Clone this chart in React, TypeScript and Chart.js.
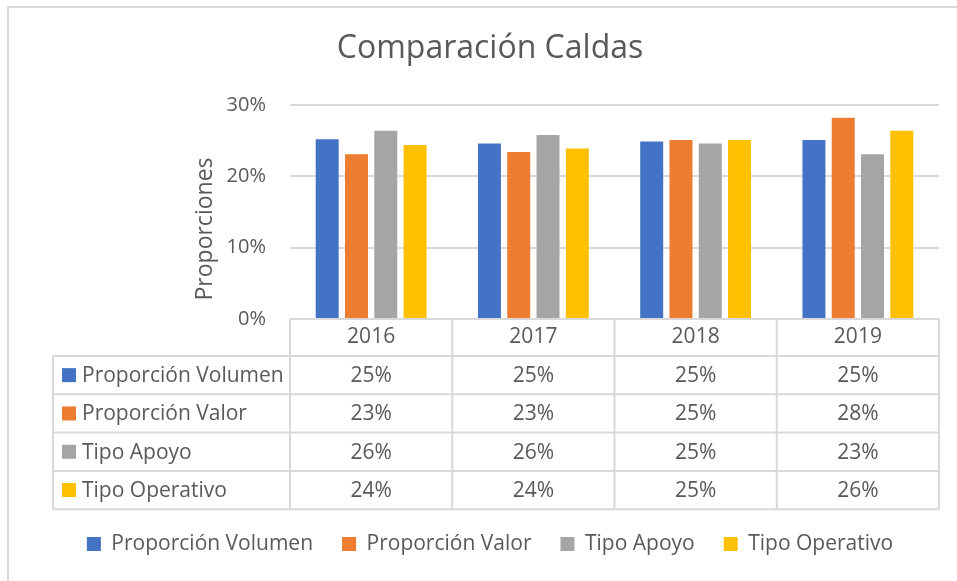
import React, { useEffect, useRef } from "react";
import { Chart, registerables } from "chart.js";

Chart.register(...registerables);

const TITLE = "Comparación Caldas";
const Y_TITLE = "Proporciones";
const categories = ["2016", "2017", "2018", "2019"];
const seriesNames = ["Proporción Volumen", "Proporción Valor", "Tipo Apoyo", "Tipo Operativo"];
const seriesColors = ["#4472C4", "#ED7D31", "#A5A5A5", "#FFC000"];
const volumen = [25.2, 24.6, 24.9, 25.1];
const valor = [23.1, 23.4, 25.1, 28.2];
const apoyo = [26.4, 25.8, 24.6, 23.1];
const operativo = [24.4, 23.9, 25.1, 26.4];
const seriesValues = [volumen, valor, apoyo, operativo];
const yTicks = [0, 10, 20, 30];

const FONT = "'Open Sans', sans-serif";
const TEXT = "#595959";
const LINE = "#d9d9d9";

const framePlugin = {
  id: "frame",
  beforeDraw(chart: any) {
    const ctx = chart.ctx;
    ctx.save();
    ctx.fillStyle = "#ffffff";
    ctx.fillRect(0, 0, chart.width, chart.height);
    ctx.strokeStyle = LINE;
    ctx.lineWidth = 2;
    ctx.beginPath();
    ctx.moveTo(8, chart.height);
    ctx.lineTo(8, 7);
    ctx.lineTo(chart.width, 7);
    ctx.stroke();
    ctx.restore();
  },
};

const yTitlePlugin = {
  id: "yTitle",
  afterDraw(chart: any) {
    const ctx = chart.ctx;
    ctx.save();
    ctx.translate(205, 229);
    ctx.rotate(-Math.PI / 2);
    ctx.font = `23px ${FONT}`;
    ctx.fillStyle = TEXT;
    ctx.textAlign = "center";
    ctx.textBaseline = "middle";
    ctx.fillText(Y_TITLE, 0, 0);
    ctx.restore();
  },
};

const tablePlugin = {
  id: "dataTable",
  afterDraw(chart: any) {
    const ctx = chart.ctx;
    const area = chart.chartArea;
    const xs = chart.scales.x;
    const n = categories.length;
    const colW = (area.right - area.left) / n;
    const top = area.bottom;
    const headerH = 37;
    const rowH = 38.3;
    const leftX = 53;
    const rowsTop = top + headerH;
    const bottom = rowsTop + rowH * seriesNames.length;
    ctx.save();
    ctx.strokeStyle = LINE;
    ctx.lineWidth = 2;
    ctx.beginPath();
    ctx.moveTo(area.left, top);
    ctx.lineTo(area.right, top);
    for (let r = 0; r <= seriesNames.length; r++) {
      const y = rowsTop + r * rowH;
      ctx.moveTo(leftX, y);
      ctx.lineTo(area.right, y);
    }
    for (let c = 0; c <= n; c++) {
      const x = area.left + c * colW;
      ctx.moveTo(x, top);
      ctx.lineTo(x, bottom);
    }
    ctx.moveTo(leftX, rowsTop);
    ctx.lineTo(leftX, bottom);
    ctx.stroke();

    ctx.font = `21px ${FONT}`;
    ctx.fillStyle = TEXT;
    ctx.textBaseline = "middle";
    ctx.textAlign = "center";
    categories.forEach((cat, i) => {
      ctx.fillText(cat, xs.getPixelForValue(i), top + headerH / 2);
    });
    seriesNames.forEach((name, r) => {
      const cy = rowsTop + r * rowH + rowH / 2;
      ctx.fillStyle = seriesColors[r];
      ctx.fillRect(62, cy - 7, 14, 14);
      ctx.fillStyle = TEXT;
      ctx.textAlign = "left";
      ctx.fillText(name, 82, cy + 1);
      ctx.textAlign = "center";
      seriesValues[r].forEach((v, i) => {
        ctx.fillText(`${Math.round(v)}%`, xs.getPixelForValue(i), cy + 1);
      });
    });
    ctx.restore();
  },
};

export default function App() {
  const ref = useRef<HTMLCanvasElement | null>(null);
  useEffect(() => {
    if (!ref.current) return;
    Chart.defaults.font.family = FONT;
    const chart = new Chart(ref.current, {
      type: "bar",
      data: {
        labels: categories,
        datasets: seriesNames.map((name, i) => ({
          label: name,
          data: seriesValues[i],
          backgroundColor: seriesColors[i],
          borderWidth: 0,
          barPercentage: 0.785,
          categoryPercentage: 0.722,
        })),
      },
      options: {
        responsive: false,
        animation: false,
        layout: { padding: { left: 23, right: 0, top: 0, bottom: 16.5 } },
        plugins: {
          title: {
            display: true,
            text: TITLE,
            color: TEXT,
            font: { size: 32, weight: "normal", family: FONT },
            padding: { top: 30, bottom: 36.6 },
          },
          legend: {
            position: "bottom",
            labels: {
              color: TEXT,
              font: { size: 21, family: FONT },
              boxWidth: 14,
              boxHeight: 14,
              padding: 29,
            },
          },
          tooltip: { enabled: false },
        },
        scales: {
          x: {
            grid: { display: false },
            border: { display: false },
            ticks: { display: false },
            afterFit: (s: any) => {
              s.height = 185.5;
            },
          },
          y: {
            position: "left",
            min: 0,
            max: 30,
            afterBuildTicks: (s: any) => {
              s.ticks = yTicks.map((v) => ({ value: v }));
            },
            ticks: {
              color: TEXT,
              font: { size: 20, family: FONT },
              padding: 24,
              callback: (v: any) => `${v}%`,
            },
            grid: { color: LINE, lineWidth: 2, drawTicks: false },
            border: { display: false },
            afterFit: (s: any) => {
              s.width = 267;
            },
          },
          y2: {
            position: "right",
            display: true,
            grid: { display: false },
            border: { display: false },
            ticks: { display: false },
            afterFit: (s: any) => {
              s.width = 18;
            },
          },
        },
      },
      plugins: [framePlugin, yTitlePlugin, tablePlugin],
    });
    return () => chart.destroy();
  }, []);
  return (
    <div style={{ position: "fixed", left: 0, top: 0, width: 957, height: 581, background: "#fff" }}>
      <canvas ref={ref} width={957} height={581} style={{ display: "block" }} />
    </div>
  );
}
